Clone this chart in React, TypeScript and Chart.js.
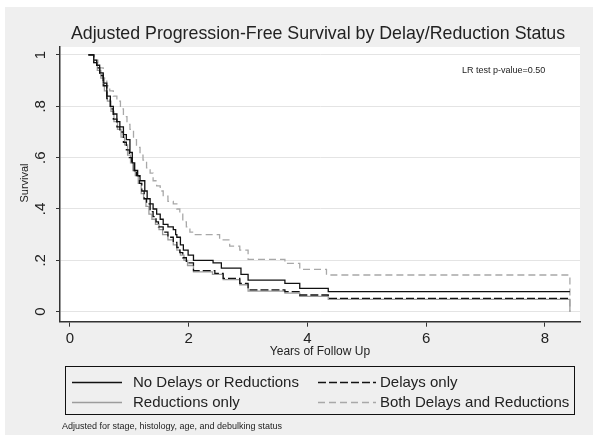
import React, { useEffect, useRef } from 'react';
import { Chart, registerables } from 'chart.js';

Chart.register(...registerables);

const titleText = 'Adjusted Progression-Free Survival by Delay/Reduction Status';
const xTickValues = [0, 2, 4, 6, 8];
const yTickValues = [0, 0.2, 0.4, 0.6, 0.8, 1];
const yTickLabels = ['0', '.2', '.4', '.6', '.8', '1'];
const seriesNames = ['No Delays or Reductions', 'Delays only', 'Reductions only', 'Both Delays and Reductions'];

const noDelayTime = [0.31, 0.40, 0.45, 0.50, 0.56, 0.62, 0.68, 0.73, 0.79, 0.84, 0.90, 0.95, 1.01, 1.05, 1.09, 1.14, 1.18, 1.26, 1.30, 1.35, 1.40, 1.46, 1.52, 1.57, 1.65, 1.74, 1.78, 1.80, 1.86, 1.91, 1.99, 2.08, 2.41, 2.55, 2.88, 3.00, 3.62, 3.87, 4.35, 8.42];
const noDelaySurv = [1.0, 0.98, 0.96, 0.93, 0.89, 0.84, 0.80, 0.77, 0.74, 0.72, 0.69, 0.67, 0.62, 0.58, 0.55, 0.53, 0.51, 0.47, 0.44, 0.42, 0.40, 0.38, 0.36, 0.34, 0.33, 0.32, 0.30, 0.29, 0.26, 0.24, 0.22, 0.20, 0.19, 0.17, 0.145, 0.123, 0.11, 0.091, 0.078, 0.078];

const delaysTime = [0.31, 0.40, 0.45, 0.50, 0.56, 0.62, 0.68, 0.73, 0.79, 0.84, 0.90, 0.95, 1.00, 1.04, 1.08, 1.12, 1.17, 1.21, 1.25, 1.29, 1.35, 1.40, 1.45, 1.49, 1.57, 1.65, 1.74, 1.80, 1.85, 1.90, 1.96, 2.08, 2.44, 2.58, 2.86, 3.00, 3.62, 3.87, 4.35, 8.42];
const delaysSurv = [1.0, 0.97, 0.95, 0.92, 0.88, 0.83, 0.79, 0.75, 0.72, 0.70, 0.66, 0.63, 0.60, 0.58, 0.55, 0.53, 0.50, 0.47, 0.44, 0.42, 0.39, 0.37, 0.35, 0.33, 0.31, 0.29, 0.27, 0.25, 0.23, 0.21, 0.19, 0.16, 0.149, 0.13, 0.11, 0.085, 0.078, 0.065, 0.052, 0.052];

const reductionsTime = [0.31, 0.40, 0.46, 0.52, 0.58, 0.63, 0.69, 0.74, 0.80, 0.86, 0.92, 0.97, 1.02, 1.06, 1.10, 1.15, 1.20, 1.24, 1.28, 1.33, 1.38, 1.44, 1.50, 1.56, 1.65, 1.74, 1.80, 1.86, 1.92, 1.98, 2.08, 2.40, 2.58, 2.86, 3.00, 3.62, 3.87, 4.35, 8.42, 8.42];
const reductionsSurv = [1.0, 0.97, 0.94, 0.91, 0.86, 0.82, 0.78, 0.74, 0.71, 0.68, 0.65, 0.61, 0.58, 0.55, 0.53, 0.50, 0.46, 0.44, 0.41, 0.38, 0.36, 0.34, 0.32, 0.30, 0.28, 0.26, 0.24, 0.22, 0.20, 0.18, 0.155, 0.145, 0.125, 0.105, 0.08, 0.072, 0.06, 0.048, 0.048, 0];

const bothTime = [0.31, 0.40, 0.47, 0.56, 0.62, 0.67, 0.73, 0.79, 0.85, 0.90, 0.96, 1.01, 1.07, 1.12, 1.18, 1.23, 1.29, 1.35, 1.40, 1.46, 1.52, 1.57, 1.65, 1.74, 1.80, 1.85, 1.90, 1.96, 2.02, 2.08, 2.52, 2.69, 2.86, 3.00, 3.62, 3.87, 4.32, 8.42, 8.42];
const bothSurv = [1.0, 0.98, 0.95, 0.91, 0.88, 0.86, 0.84, 0.82, 0.79, 0.76, 0.73, 0.71, 0.67, 0.64, 0.61, 0.59, 0.56, 0.54, 0.51, 0.49, 0.47, 0.45, 0.43, 0.42, 0.40, 0.38, 0.35, 0.33, 0.31, 0.30, 0.28, 0.255, 0.24, 0.204, 0.188, 0.165, 0.143, 0.143, 0];

const FONT = '"Liberation Sans", Arial, sans-serif';
const seriesColors = ['#111111', '#111111', '#9c9c9c', '#a8a8a8'];
const seriesDash: number[][] = [[], [8, 3], [], [7, 4]];

export default function App() {
  const ref = useRef<HTMLCanvasElement>(null);

  useEffect(() => {
    const canvas = ref.current;
    if (!canvas) return;
    const toPts = (t: number[], s: number[]) => t.map((x, i) => ({ x, y: s[i] }));
    const allSeries = [
      toPts(noDelayTime, noDelaySurv),
      toPts(delaysTime, delaysSurv),
      toPts(reductionsTime, reductionsSurv),
      toPts(bothTime, bothSurv),
    ];

    const bgPlugin = {
      id: 'bgPlugin',
      beforeDraw(chart: any) {
        const ctx = chart.ctx;
        const a = chart.chartArea;
        ctx.save();
        ctx.fillStyle = '#ffffff';
        ctx.fillRect(0, 0, chart.width, chart.height);
        ctx.fillStyle = '#efefef';
        ctx.fillRect(5, 7, 588, 428);
        ctx.fillStyle = '#ffffff';
        ctx.fillRect(a.left, a.top, a.right - a.left, a.bottom - a.top);
        ctx.restore();
      },
    };

    const textPlugin = {
      id: 'textPlugin',
      afterDraw(chart: any) {
        const ctx = chart.ctx;
        const ys = chart.scales.y;
        ctx.save();
        ctx.fillStyle = '#222';
        // title
        ctx.font = `17.8px ${FONT}`;
        ctx.textAlign = 'center';
        ctx.textBaseline = 'middle';
        ctx.fillText(titleText, 318, 34);
        // y tick labels rotated
        ctx.font = `15px ${FONT}`;
        yTickValues.forEach((v, i) => {
          const py = ys.getPixelForValue(v);
          ctx.save();
          ctx.translate(41, py);
          ctx.rotate(-Math.PI / 2);
          ctx.fillText(yTickLabels[i], 0, 0);
          ctx.restore();
        });
        // y title
        ctx.font = `11px ${FONT}`;
        ctx.save();
        ctx.translate(25, 183);
        ctx.rotate(-Math.PI / 2);
        ctx.fillText('Survival', 0, 0);
        ctx.restore();
        // x title
        ctx.font = `12px ${FONT}`;
        ctx.fillText('Years of Follow Up', 320, 352);
        // LR text
        ctx.font = `9px ${FONT}`;
        ctx.textAlign = 'left';
        ctx.fillText('LR test p-value=0.50', 462, 71);
        // footnote
        ctx.fillText('Adjusted for stage, histology, age, and debulking status', 62, 427);
        // legend box
        ctx.strokeStyle = '#111';
        ctx.lineWidth = 1;
        ctx.strokeRect(65.5, 366.5, 509, 48);
        const rows = [382, 402];
        const cols = [[72, 122, 133], [318, 376, 380]];
        const legendPos = [[0, 0], [1, 0], [0, 1], [1, 1]];
        ctx.font = `15px ${FONT}`;
        legendPos.forEach(([c, r], i) => {
          const [x0, x1, tx] = cols[c];
          const y = rows[r];
          ctx.beginPath();
          ctx.strokeStyle = seriesColors[i];
          ctx.lineWidth = 1.3;
          ctx.setLineDash(seriesDash[i]);
          ctx.moveTo(x0, y + 0.5);
          ctx.lineTo(x1, y + 0.5);
          ctx.stroke();
          ctx.setLineDash([]);
          ctx.fillStyle = '#222';
          ctx.fillText(seriesNames[i], tx, y + 1);
        });
        ctx.restore();
      },
    };

    const chart = new Chart(canvas, {
      type: 'scatter',
      data: {
        datasets: allSeries.map((pts, i) => ({
          label: seriesNames[i],
          data: pts,
          showLine: true,
          stepped: 'before' as any,
          borderColor: seriesColors[i],
          borderWidth: 1.3,
          borderDash: seriesDash[i],
          pointRadius: 0,
          fill: false,
        })),
      },
      options: {
        animation: false,
        responsive: false,
        devicePixelRatio: 1,
        layout: { padding: { left: 0, right: 21, top: 47, bottom: 0 } },
        plugins: {
          legend: { display: false },
          title: { display: false },
          tooltip: { enabled: false },
        },
        scales: {
          x: {
            type: 'linear',
            min: -0.168,
            max: 8.59,
            afterBuildTicks: (scale: any) => {
              scale.ticks = xTickValues.map((v) => ({ value: v }));
            },
            afterFit: (scale: any) => {
              scale.height = 120.3;
            },
            grid: { drawOnChartArea: false, drawTicks: true, tickLength: 5, tickColor: '#333' },
            border: { display: true, color: '#333', width: 1.5 },
            ticks: {
              font: { family: FONT, size: 15 },
              color: '#222',
              padding: 3,
              maxRotation: 0,
              autoSkip: false,
            },
          },
          y: {
            type: 'linear',
            min: -0.039,
            max: 1.031,
            afterBuildTicks: (scale: any) => {
              scale.ticks = yTickValues.map((v) => ({ value: v }));
            },
            afterFit: (scale: any) => {
              scale.width = 60;
            },
            grid: { drawOnChartArea: true, color: '#e4e4e4', lineWidth: 1, drawTicks: true, tickLength: 4, tickColor: '#333' },
            border: { display: true, color: '#333', width: 1.5 },
            ticks: { display: false },
          },
        },
      },
      plugins: [bgPlugin, textPlugin],
    });

    return () => chart.destroy();
  }, []);

  return (
    <div style={{ position: 'fixed', left: 0, top: 0, width: 601, height: 442 }}>
      <canvas ref={ref} width={601} height={442} style={{ display: 'block', width: 601, height: 442 }} />
    </div>
  );
}
